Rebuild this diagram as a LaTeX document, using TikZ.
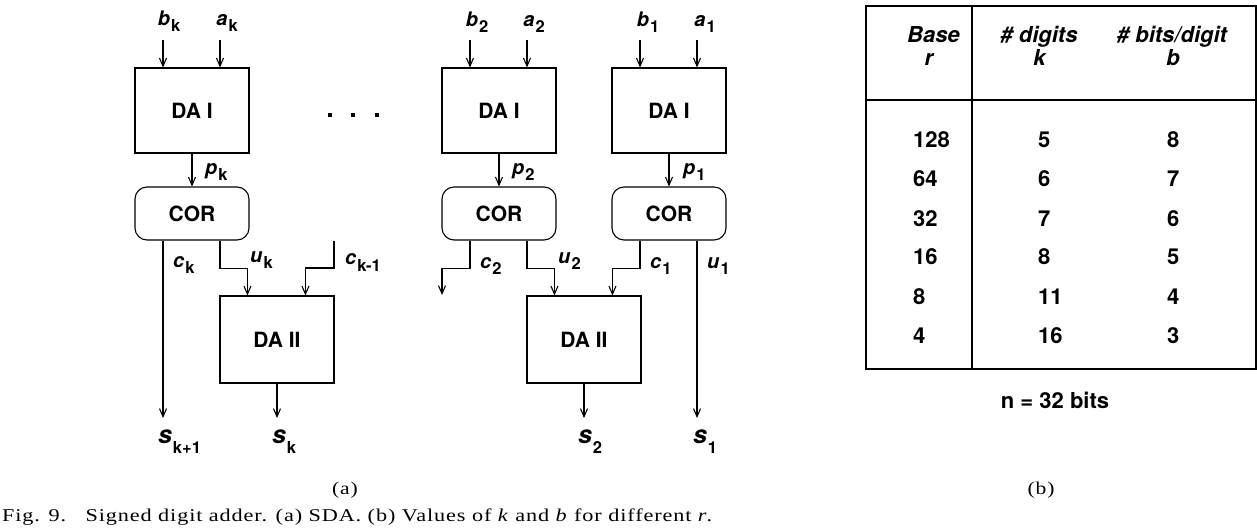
\documentclass[tikz,border=0pt]{standalone}
\usepackage{fontspec}
\usepackage{graphicx}
\setmainfont{TeX Gyre Heros}
\newfontfamily\capfont[LetterSpace=4]{Liberation Serif}
\usetikzlibrary{arrows.meta}

% signal name: bold italic letter with an upright bold subscript
\newcommand\sv[3][6pt]{\textbf{\textit{#2}}\rlap{\kern1pt\raisebox{-#1}{\fontsize{16.5}{16.5}\selectfont\bfseries #3}}}

\begin{document}
\begin{tikzpicture}[x=1pt,y=-1pt,
  wire/.style={line width=1.1pt},
  sig/.style={wire,-{Straight Barb[length=8pt,width=7pt]}},
  blk/.style={draw,line width=1.1pt,minimum width=114pt,minimum height=85pt,
    inner sep=0pt,font=\fontsize{21}{21}\selectfont\bfseries},
  cor/.style={blk,minimum height=53pt,rounded corners=12pt},
  dab/.style={blk,minimum height=87pt},
  lab/.style={inner sep=0pt,font=\fontsize{20}{20}\selectfont},
  slab/.style={inner sep=0pt,font=\fontsize{25}{25}\selectfont},
  tab/.style={inner sep=0pt,font=\fontsize{22}{22}\selectfont\bfseries},
  capn/.style={inner sep=0pt,font=\capfont\fontsize{18}{18}\selectfont},
  ]
\useasboundingbox (0,0) rectangle (1257,529);

% ---- adder cells ----
\node[blk] (dak) at (192,110.5) {DA I};
\node[cor] (cork) at (192,213.5) {COR};
\node[dab] (dbk) at (277,339.5) {DA II};
\node[blk] (da2) at (499,110.5) {DA I};
\node[cor] (cor2) at (499,213.5) {COR};
\node[blk] (da1) at (669,110.5) {DA I};
\node[cor] (cor1) at (669,213.5) {COR};
\node[dab] (db2) at (584,339.5) {DA II};

% ---- operand inputs ----
\coordinate (bk) at (163,40); \coordinate (ak) at (220,40);
\coordinate (b2) at (470,40); \coordinate (a2) at (527,40);
\coordinate (b1) at (640,40); \coordinate (a1) at (697,40);
\foreach \p/\d in {bk/dak,ak/dak,b2/da2,a2/da2,b1/da1,a1/da1}
  \draw[sig] (\p) -- (\p |- \d.north);

% ---- partial sums ----
\draw[sig] (dak) -- (cork);
\draw[sig] (da2) -- (cor2);
\draw[sig] (da1) -- (cor1);

% ---- outputs ----
\coordinate (sk1) at (163,418);
\coordinate (sk) at (277,418);
\coordinate (s2) at (584,418);
\coordinate (s1) at (697,418);
\coordinate (ckm) at (334,241);
\coordinate (c2o) at (442,295);

% stage k
\draw[sig] (bk |- cork.south) -- (sk1);
\draw[sig] (ak |- cork.south) -- ++(0,28) -| ([xshift=28pt]dbk.north west);
\draw[sig] (ckm) -- ++(0,27) -| ([xshift=86pt]dbk.north west);
\draw[sig] (dbk) -- (sk);
% stage 2
\draw[sig] (b2 |- cor2.south) -- ++(0,28) -| (c2o);
\draw[sig] (a2 |- cor2.south) -- ++(0,28) -| ([xshift=28pt]db2.north west);
\draw[sig] (db2) -- (s2);
% stage 1
\draw[sig] (b1 |- cor1.south) -- ++(0,28) -| ([xshift=86pt]db2.north west);
\draw[sig] (a1 |- cor1.south) -- (s1);

% ---- signal names ----
\node[lab,anchor=base] (lbk) at (164,26) {\sv{b}{k}};
\node[lab,anchor=base] (lak) at (222,26) {\sv{a}{k}};
\node[lab,anchor=base] (lb2) at (472,27) {\sv{b}{2}};
\node[lab,anchor=base] (la2) at (529,27) {\sv{a}{2}};
\node[lab,anchor=base] (lb1) at (643,27) {\sv{b}{1}};
\node[lab,anchor=base] (la1) at (700,27) {\sv{a}{1}};

\node[lab,anchor=base west] (lpk) at (205,175) {\sv{p}{k}};
\node[lab,anchor=base west] (lp2) at (512,175) {\sv{p}{2}};
\node[lab,anchor=base west] (lp1) at (683,175) {\sv{p}{1}};

\node[lab,anchor=base west] (lck) at (173,267) {\sv{c}{k}};
\node[lab,anchor=base west] (luk) at (250,262) {\sv{u}{k}};
\node[lab,anchor=base west] (lckm) at (345,265) {\sv{c}{k-1}};
\node[lab,anchor=base west] (lc2) at (480,268) {\sv{c}{2}};
\node[lab,anchor=base west] (lu2) at (558,263) {\sv{u}{2}};
\node[lab,anchor=base west] (lc1) at (650,268) {\sv{c}{1}};
\node[lab,anchor=base west] (lu1) at (707,268) {\sv{u}{1}};

\node[slab,anchor=base] (lsk1) at (165,443) {\sv[10pt]{s}{k+1}};
\node[slab,anchor=base] (lsk) at (279,443) {\sv[10pt]{s}{k}};
\node[slab,anchor=base] (ls2) at (585,443) {\sv[10pt]{s}{2}};
\node[slab,anchor=base] (ls1) at (700,443) {\sv[10pt]{s}{1}};

% further stages
\foreach \x in {330,353,377}
  \fill (\x-1.6,113.4) rectangle ++(3.2,3.2);

% ---- table of k and b ----
\draw[wire] (866,6) rectangle (1256,369);
\draw[wire] (972,6) -- (972,369);
\draw[wire] (866,100) -- (1256,100);

\node[tab,anchor=base east] (hbase) at (960,43) {\itshape Base};
\node[tab,anchor=base] (hr) at (929,66) {\itshape r};
\node[tab,anchor=base] (hdig) at (1039,43) {\itshape \# digits};
\node[tab,anchor=base] (hk) at (1039.5,66) {\itshape k};
\node[tab,anchor=base] (hbits) at (1172,43) {\itshape \# bits/digit};
\node[tab,anchor=base] (hb) at (1173,66) {\itshape b};

\foreach \r/\k/\b [count=\i from 0] in {128/5/8,64/6/7,32/7/6,16/8/5,8/11/4,4/16/3} {
  \node[tab,anchor=base west] (r\i) at (913,148+39*\i) {\r};
  \node[tab,anchor=base west] (k\i) at (1038,148+39*\i) {\k};
  \node[tab,anchor=base west] (b\i) at (1167,148+39*\i) {\b};
}
\node[tab,anchor=base] (nbits) at (1055,408) {n = 32 bits};

% ---- captions ----
\node[capn,anchor=base] (suba) at (345,494) {\scalebox{1.2}[1]{(a)}};
\node[capn,anchor=base] (subb) at (1041,494) {\scalebox{1.2}[1]{(b)}};
\node[capn,anchor=base west] (cap) at (2,521)
  {\resizebox{710pt}{\height}{Fig. 9.\ \ \ Signed digit adder. (a) SDA. (b) Values of \textit{k} and \textit{b} for different \textit{r}.}};
\end{tikzpicture}
\end{document}
